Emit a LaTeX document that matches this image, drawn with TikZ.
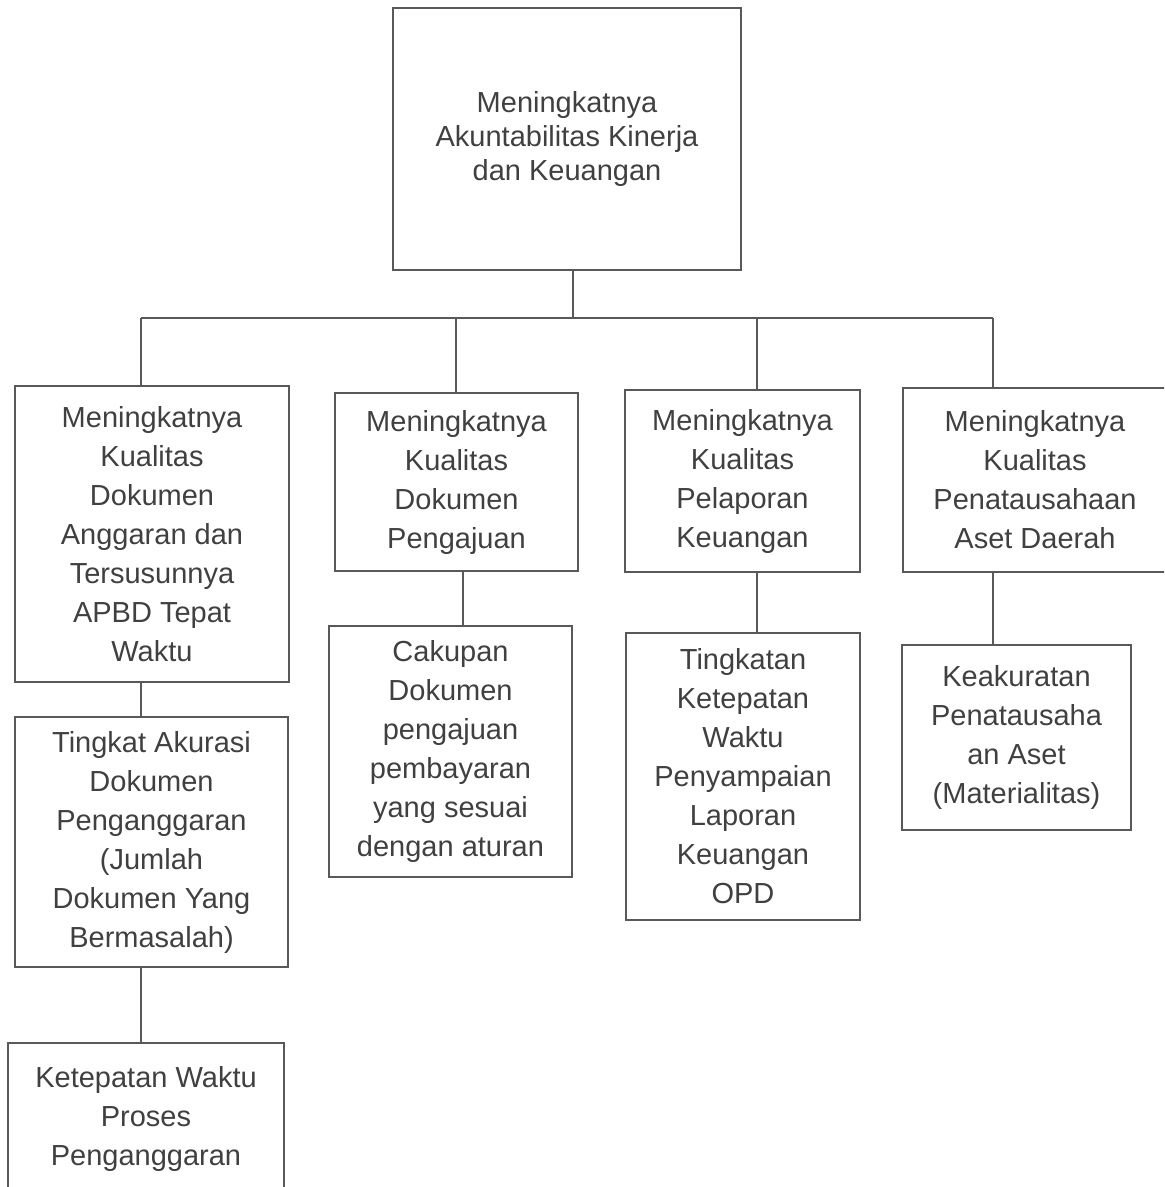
\documentclass[tikz,border=0pt]{standalone}
\usepackage{fontspec}
\setmainfont{Liberation Sans}
\definecolor{tinta}{gray}{0.25}
\definecolor{garis}{gray}{0.35}

\begin{document}
\begin{tikzpicture}[x=0.5pt,y=-0.5pt,
        kotak/.style={draw=garis, line width=1pt, inner sep=0pt, align=center, text=tinta,
                      font=\fontsize{14.5}{19.5}\selectfont},
        hubung/.style={draw=garis, line width=1pt}]
                \useasboundingbox (0,0) rectangle (1164,1187);
                \clip (0,0) rectangle (1164,1187);

                % Sasaran utama
                \node[kotak, minimum width=174pt, minimum height=131pt, font=\fontsize{14.5}{17}\selectfont] (utama) at (567,139)
                        {Meningkatnya\\Akuntabilitas Kinerja\\dan Keuangan};

                % Sasaran turunan
                \node[kotak, minimum width=137pt, minimum height=148pt] (kual1) at (152,534)
                        {Meningkatnya\\Kualitas\\Dokumen\\Anggaran dan\\Tersusunnya\\APBD Tepat\\Waktu};
                \node[kotak, minimum width=121.5pt, minimum height=89pt] (kual2) at (456.5,482)
                        {Meningkatnya\\Kualitas\\Dokumen\\Pengajuan};
                \node[kotak, minimum width=117.5pt, minimum height=91pt] (kual3) at (742.5,481)
                        {Meningkatnya\\Kualitas\\Pelaporan\\Keuangan};
                \node[kotak, minimum width=132pt, minimum height=92pt] (kual4) at (1035,480)
                        {Meningkatnya\\Kualitas\\Penatausahaan\\Aset Daerah};

                % Indikator
                \node[kotak, minimum width=136.5pt, minimum height=125pt] (ind1a) at (151.5,842)
                        {Tingkat Akurasi\\Dokumen\\Penganggaran\\(Jumlah\\Dokumen Yang\\Bermasalah)};
                \node[kotak, minimum width=138pt, minimum height=76pt] (ind1b) at (146,1119)
                        {Ketepatan Waktu\\Proses\\Penganggaran};
                \node[kotak, minimum width=121.5pt, minimum height=125.5pt] (ind2) at (450.5,751.5)
                        {Cakupan\\Dokumen\\pengajuan\\pembayaran\\yang sesuai\\dengan aturan};
                \node[kotak, minimum width=117pt, minimum height=143.5pt] (ind3) at (743,776.5)
                        {Tingkatan\\Ketepatan\\Waktu\\Penyampaian\\Laporan\\Keuangan\\OPD};
                \node[kotak, minimum width=114.5pt, minimum height=92.5pt] (ind4) at (1016.5,737.5)
                        {Keakuratan\\Penatausaha\\an Aset\\(Materialitas)};

                % Garis penghubung
                \coordinate (cabang) at (573,318);
                \coordinate (c1) at (141,318);
                \coordinate (c2) at (456,318);
                \coordinate (c3) at (757,318);
                \coordinate (c4) at (993,318);
                \coordinate (s2) at (463,0);
                \draw[hubung] (utama.south -| cabang) -- (cabang);
                \draw[hubung] (c1) -- (c4);
                \foreach \i in {1,...,4}
                        \draw[hubung] (c\i) -- (c\i |- kual\i.north);
                \draw[hubung] (kual1.south -| c1) -- (ind1a.north -| c1);
                \draw[hubung] (ind1a.south -| c1) -- (ind1b.north -| c1);
                \draw[hubung] (kual2.south -| s2) -- (ind2.north -| s2);
                \draw[hubung] (kual3.south -| c3) -- (ind3.north -| c3);
                \draw[hubung] (kual4.south -| c4) -- (ind4.north -| c4);
\end{tikzpicture}
\end{document}
